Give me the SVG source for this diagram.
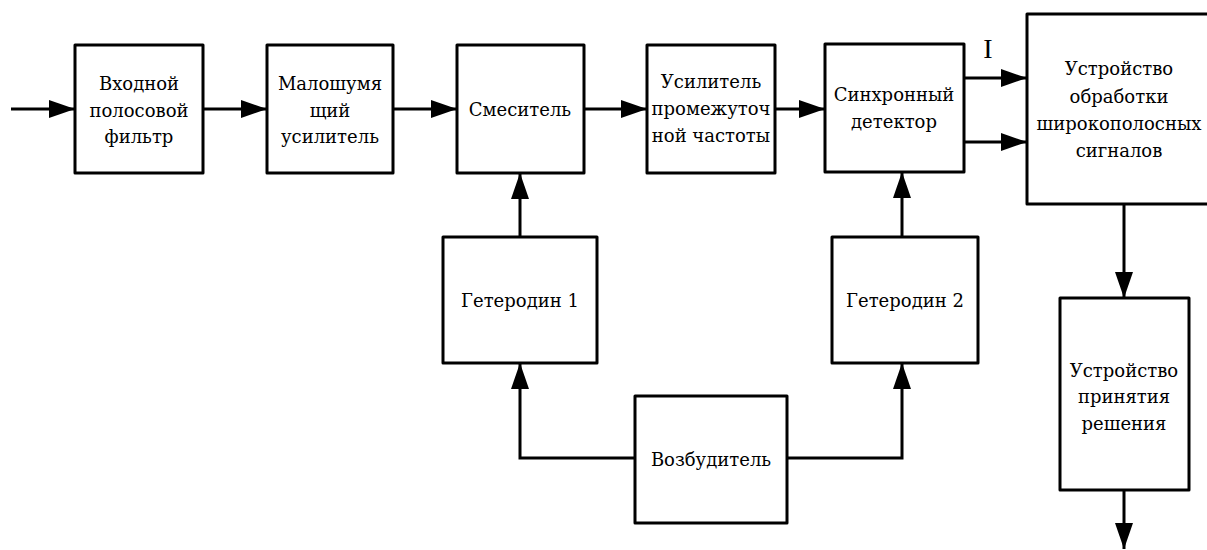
<svg xmlns="http://www.w3.org/2000/svg" width="1207" height="550" viewBox="0 0 1207 550">
<style>
.box{fill:#fff;stroke:#000;stroke-width:3;stroke-linejoin:round}
.t{font-family:"DejaVu Serif","Liberation Serif",serif;font-size:18px;fill:#000;text-anchor:middle}
.c{fill:none;stroke:#000;stroke-width:3}
</style>
<defs>
<marker id="ah" markerUnits="userSpaceOnUse" markerWidth="26" markerHeight="18" refX="26" refY="9" orient="auto">
<path d="M0,0 L26,9 L0,18 z" fill="#000"/>
</marker>
</defs>
<rect width="1207" height="550" fill="#fff"/>
<g id="connectors">
<line class="c" x1="11" y1="109" x2="75" y2="109" marker-end="url(#ah)"/>
<line class="c" x1="203" y1="109" x2="267" y2="109" marker-end="url(#ah)"/>
<line class="c" x1="393" y1="109" x2="457" y2="109" marker-end="url(#ah)"/>
<line class="c" x1="584" y1="109" x2="647" y2="109" marker-end="url(#ah)"/>
<line class="c" x1="775" y1="109" x2="825" y2="109" marker-end="url(#ah)"/>
<line class="c" x1="964" y1="78" x2="1027" y2="78" marker-end="url(#ah)"/>
<line class="c" x1="964" y1="142" x2="1027" y2="142" marker-end="url(#ah)"/>
<line class="c" x1="520" y1="237" x2="520" y2="173" marker-end="url(#ah)"/>
<line class="c" x1="902" y1="237" x2="902" y2="172" marker-end="url(#ah)"/>
<polyline class="c" points="635,458 520,458 520,363" marker-end="url(#ah)"/>
<polyline class="c" points="787,458 902,458 902,363" marker-end="url(#ah)"/>
<line class="c" x1="1124" y1="204" x2="1124" y2="298" marker-end="url(#ah)"/>
<line class="c" x1="1124" y1="490" x2="1124" y2="549" marker-end="url(#ah)"/>
<text class="t" x="988" y="58" style="font-family:'Liberation Serif',serif;font-size:28px">I</text>
</g>
<g id="bpf">
<rect class="box" x="75" y="45" width="128" height="128"/>
<text class="t" x="139" y="90">Входной</text>
<text class="t" x="139" y="117">полосовой</text>
<text class="t" x="139" y="143">фильтр</text>
</g>
<g id="lna">
<rect class="box" x="267" y="45" width="126" height="128"/>
<text class="t" x="330" y="90">Малошумя</text>
<text class="t" x="330" y="117">щий</text>
<text class="t" x="330" y="143">усилитель</text>
</g>
<g id="mixer">
<rect class="box" x="457" y="45" width="127" height="128"/>
<text class="t" x="520" y="116">Смеситель</text>
</g>
<g id="ifamp">
<rect class="box" x="647" y="45" width="128" height="128"/>
<text class="t" x="711" y="88">Усилитель</text>
<text class="t" x="711" y="115">промежуточ</text>
<text class="t" x="711" y="142">ной частоты</text>
</g>
<g id="syncdet">
<rect class="box" x="825" y="44" width="139" height="128"/>
<text class="t" x="894" y="101">Синхронный</text>
<text class="t" x="894" y="128">детектор</text>
</g>
<g id="processor">
<rect class="box" x="1027" y="14" width="195" height="190"/>
<text class="t" x="1119" y="75">Устройство</text>
<text class="t" x="1119" y="103">обработки</text>
<text class="t" x="1119" y="130">широкополосных</text>
<text class="t" x="1119" y="157">сигналов</text>
</g>
<g id="decision">
<rect class="box" x="1060" y="298" width="129" height="192"/>
<text class="t" x="1124" y="377">Устройство</text>
<text class="t" x="1124" y="403">принятия</text>
<text class="t" x="1124" y="430">решения</text>
</g>
<g id="lo1">
<rect class="box" x="443" y="237" width="154" height="126"/>
<text class="t" x="520" y="307">Гетеродин 1</text>
</g>
<g id="lo2">
<rect class="box" x="832" y="237" width="146" height="126"/>
<text class="t" x="905" y="307">Гетеродин 2</text>
</g>
<g id="exciter">
<rect class="box" x="635" y="396" width="152" height="127"/>
<text class="t" x="711" y="466">Возбудитель</text>
</g>
</svg>
